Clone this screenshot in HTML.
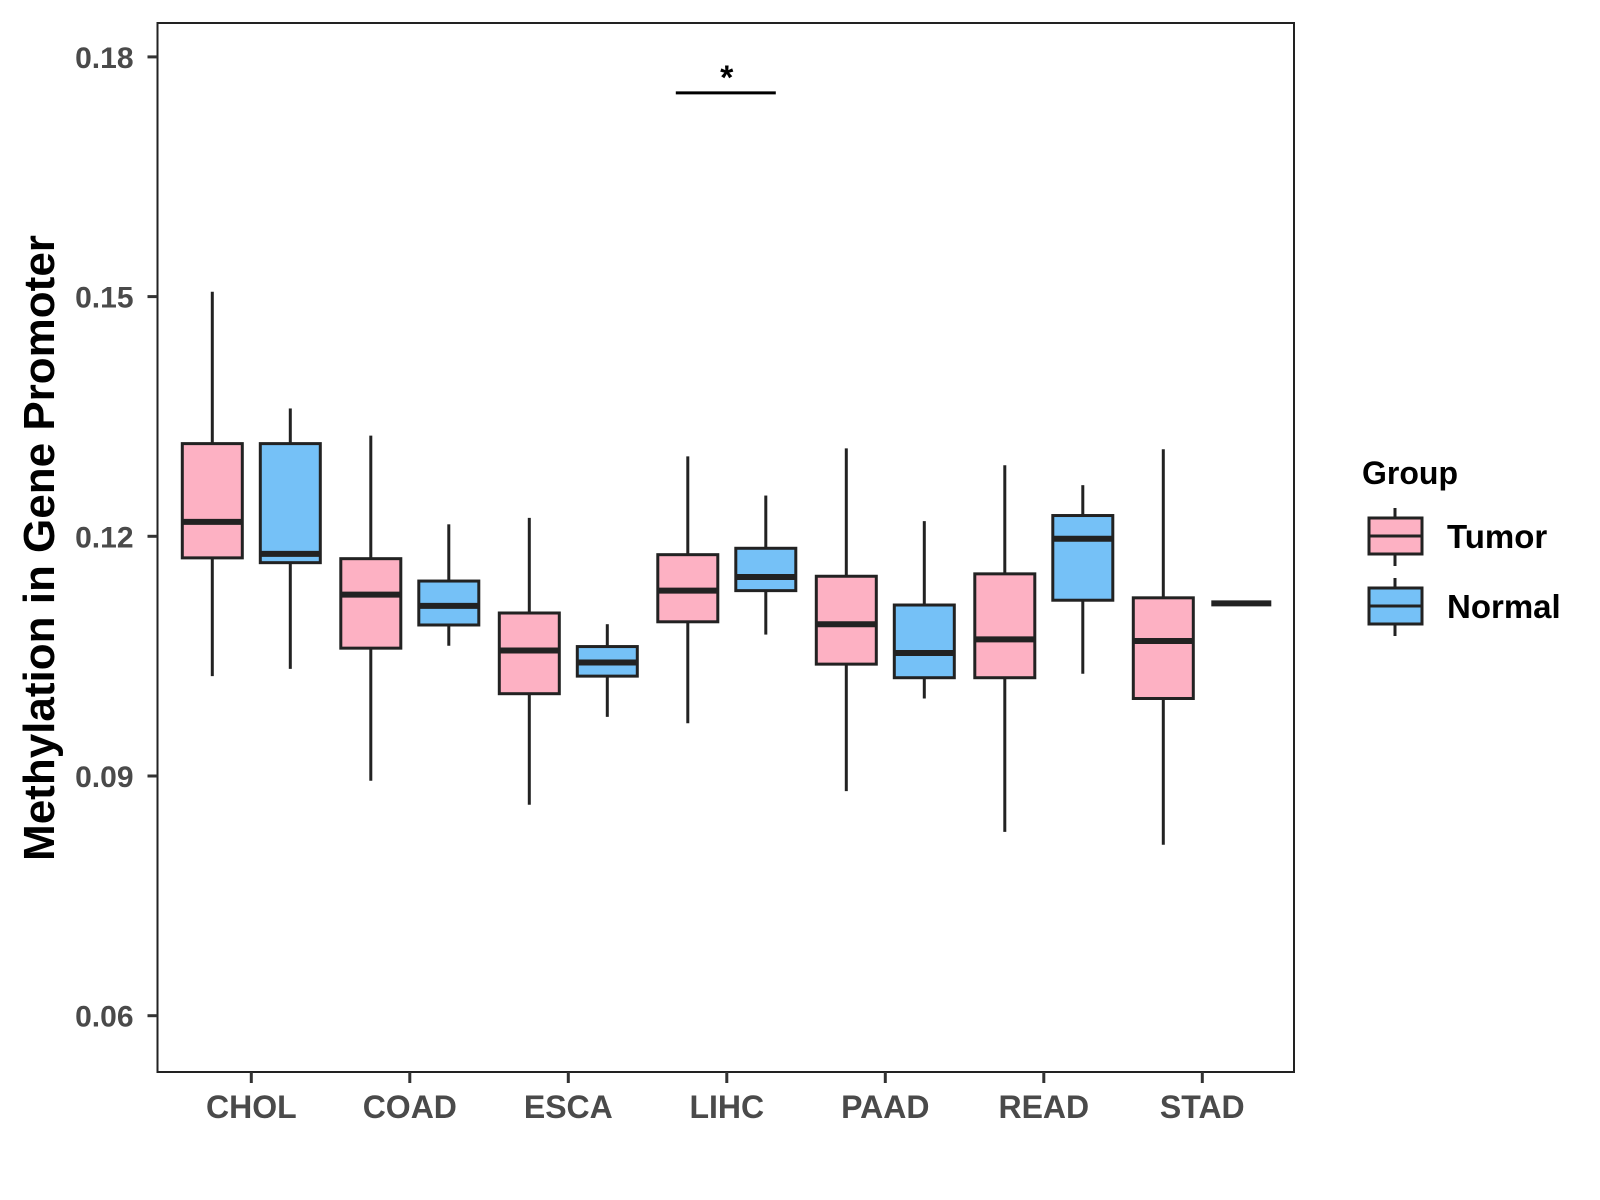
<!DOCTYPE html>
<html><head><meta charset="utf-8"><style>
html,body{margin:0;padding:0;background:#fff;}
svg{display:block;font-family:"Liberation Sans",Arial,sans-serif;}
</style></head><body>
<svg id="chart" width="1600" height="1200" xmlns="http://www.w3.org/2000/svg"></svg>
<script>
const categories = ["CHOL","COAD","ESCA","LIHC","PAAD","READ","STAD"];
const groups = ["Tumor","Normal"];
// [whiskerLow, q1, median, q3, whiskerHigh]
const tumorStats = [
  [0.1025,0.1173,0.1218,0.1316,0.1506],
  [0.0894,0.1060,0.1127,0.1172,0.1326],
  [0.0864,0.1003,0.1057,0.1104,0.1223],
  [0.0966,0.1093,0.1132,0.1177,0.1300],
  [0.0881,0.1040,0.1090,0.1150,0.1310],
  [0.0830,0.1023,0.1071,0.1153,0.1289],
  [0.0814,0.0997,0.1069,0.1123,0.1309]
];
const normalStats = [
  [0.1034,0.1167,0.1178,0.1316,0.1360],
  [0.1063,0.1089,0.1113,0.1144,0.1215],
  [0.0974,0.1025,0.1042,0.1062,0.1090],
  [0.1077,0.1132,0.1149,0.1185,0.1251],
  [0.0997,0.1023,0.1054,0.1114,0.1219],
  [0.1028,0.1120,0.1197,0.1226,0.1264],
  [0.1116,0.1116,0.1116,0.1116,0.1116]
];
const yTicks = [0.06,0.09,0.12,0.15,0.18];
const yTickLabels = ["0.06","0.09","0.12","0.15","0.18"];
const sigCategory = "LIHC";
const sigValue = 0.1755;

const NS="http://www.w3.org/2000/svg";
const svg=document.getElementById('chart');
const P={l:157.5,t:23,r:1294,b:1072};
function y(v){return 1015.7-(v-0.06)*7990;}
function x(i){return 251.3+i*158.5;}
const fills={Tumor:"#FDB1C3",Normal:"#75C1F7"};
function mk(tag,attrs,parent){const e=document.createElementNS(NS,tag);for(const k in attrs)e.setAttribute(k,attrs[k]);(parent||svg).appendChild(e);return e;}

const panel=mk('rect',{x:P.l,y:P.t,width:P.r-P.l,height:P.b-P.t,fill:'#fff',stroke:'#222','stroke-width':2});



yTicks.forEach((t,i)=>{
  const tk=mk('line',{x1:P.l-10,x2:P.l,y1:y(t),y2:y(t),stroke:'#333','stroke-width':3});
  
  
  const lb=mk('text',{x:P.l-24,y:y(t)+11,'text-anchor':'end','font-size':30,'font-weight':'bold',fill:'#4a4a4a'});
  lb.textContent=yTickLabels[i];
  
  
});
categories.forEach((c,i)=>{
  const tk=mk('line',{x1:x(i),x2:x(i),y1:P.b,y2:P.b+11,stroke:'#333','stroke-width':3});
  
  
  const lb=mk('text',{x:x(i),y:1118,'text-anchor':'middle','font-size':32,'font-weight':'bold',fill:'#4a4a4a'});
  lb.textContent=c;
  
  
});
const yt=mk('text',{x:0,y:0,'text-anchor':'middle','font-size':44,'font-weight':'bold',fill:'#000',transform:'translate(54,548) rotate(-90)'});
yt.textContent="Methylation in Gene Promoter";



function drawBox(cx,s,fill,name){
  const g=mk('g',{});
  
  
  const hw=30;
  mk('line',{x1:cx,x2:cx,y1:y(s[3]),y2:y(s[4]),stroke:'#222','stroke-width':3},g);
  mk('line',{x1:cx,x2:cx,y1:y(s[1]),y2:y(s[0]),stroke:'#222','stroke-width':3},g);
  mk('rect',{x:cx-hw,y:y(s[3]),width:hw*2,height:Math.max(0,y(s[1])-y(s[3])),fill:fill,stroke:'#222','stroke-width':3},g);
  mk('line',{x1:cx-hw,x2:cx+hw,y1:y(s[2]),y2:y(s[2]),stroke:'#222','stroke-width':6},g);
}
categories.forEach((c,i)=>{
  drawBox(x(i)-39,tumorStats[i],fills.Tumor,'box-'+c.toLowerCase()+'-tumor');
  drawBox(x(i)+39,normalStats[i],fills.Normal,'box-'+c.toLowerCase()+'-normal');
});
const si=categories.indexOf(sigCategory);
const sl=mk('line',{x1:x(si)-51,x2:x(si)+49,y1:y(sigValue),y2:y(sigValue),stroke:'#000','stroke-width':3});


const st=mk('text',{x:x(si),y:y(sigValue)-4,'text-anchor':'middle','font-size':34,'font-weight':'bold',fill:'#000'});
st.textContent="*";



const lt=mk('text',{x:1362,y:484,'font-size':32,'font-weight':'bold',fill:'#000'});
lt.textContent="Group";


groups.forEach((gname,i)=>{
  const g=mk('g',{});
  
  
  const top=518+i*70;
  mk('line',{x1:1395,x2:1395,y1:top-10,y2:top+48,stroke:'#222','stroke-width':3},g);
  mk('rect',{x:1369,y:top,width:53,height:36,fill:fills[gname],stroke:'#222','stroke-width':3},g);
  mk('line',{x1:1369,x2:1422,y1:top+18,y2:top+18,stroke:'#222','stroke-width':3},g);
  const t=mk('text',{x:1447,y:top+30,'font-size':33,'font-weight':'bold',fill:'#000'},g);
  t.textContent=gname;
});
</script>
</body></html>
